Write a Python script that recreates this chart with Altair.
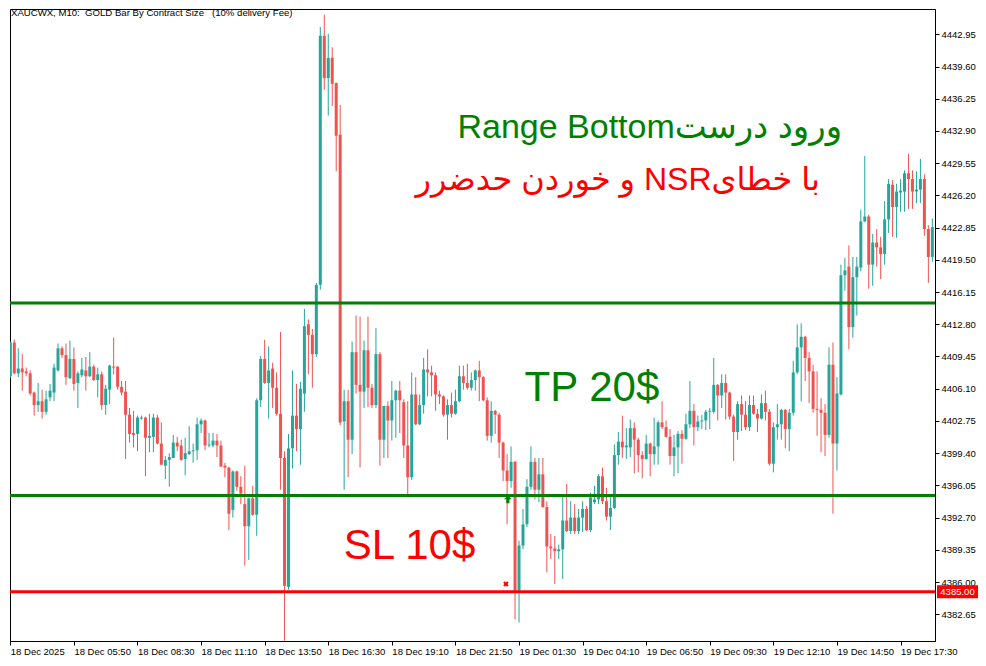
import altair as alt
import pandas as pd

# ---- candle data (10-minute bars, index 0..232) ----
opens = [4407.4, 4410.9, 4407.7, 4408.2, 4407.9, 4407.7, 4405.7, 4404.4, 4404.8, 4403.7,
         4405.2, 4405.7, 4408.0, 4410.3, 4409.6, 4407.2, 4409.2, 4406.7, 4407.5, 4408.0,
         4407.4, 4408.4, 4407.0, 4407.6, 4404.4, 4406.0, 4408.4, 4408.4, 4406.3, 4405.8,
         4403.4, 4401.5, 4401.4, 4403.0, 4403.1, 4401.0, 4401.1, 4403.1, 4400.4, 4398.1,
         4398.7, 4398.9, 4400.5, 4400.2, 4398.8, 4399.3, 4399.6, 4399.7, 4402.4, 4402.8,
         4400.2, 4400.2, 4400.7, 4400.2, 4398.1, 4397.9, 4393.5, 4397.5, 4395.9, 4394.1,
         4391.8, 4394.7, 4393.0, 4404.9, 4409.2, 4406.7, 4408.2, 4406.2, 4403.5, 4398.9,
         4385.5, 4399.9, 4403.3, 4401.9, 4405.6, 4412.8, 4411.7, 4409.7, 4416.9, 4442.8,
         4438.4, 4440.5, 4437.9, 4432.5, 4402.7, 4404.8, 4400.8, 4409.9, 4406.5, 4405.8,
         4410.1, 4406.2, 4404.4, 4409.7, 4400.8, 4404.3, 4402.8, 4404.9, 4405.9, 4404.7,
         4400.2, 4396.9, 4405.5, 4402.4, 4404.4, 4408.1, 4407.8, 4407.5, 4405.5, 4405.3,
         4403.4, 4404.4, 4403.5, 4404.8, 4407.4, 4406.7, 4406.2, 4407.0, 4408.0, 4407.3,
         4404.9, 4401.2, 4403.8, 4403.4, 4400.5, 4397.6, 4396.5, 4398.5, 4385.1, 4389.8,
         4392.0, 4395.9, 4398.5, 4395.6, 4397.2, 4393.8, 4389.7, 4389.5, 4389.2, 4389.4,
         4392.4, 4391.3, 4392.7, 4391.3, 4392.7, 4393.6, 4391.4, 4394.3, 4394.6, 4397.0,
         4394.4, 4392.8, 4393.7, 4399.2, 4400.6, 4400.0, 4400.0, 4402.0, 4400.8, 4399.2,
         4398.8, 4400.4, 4399.3, 4400.1, 4402.6, 4402.1, 4401.1, 4399.1, 4400.0, 4401.4,
         4400.9, 4402.4, 4403.8, 4402.1, 4402.7, 4402.8, 4403.7, 4403.7, 4406.5, 4405.4,
         4406.7, 4405.7, 4403.2, 4401.6, 4404.5, 4403.4, 4402.1, 4404.4, 4403.5, 4403.0,
         4404.6, 4403.7, 4398.3, 4402.1, 4402.4, 4403.9, 4401.9, 4403.6, 4407.8, 4410.4,
         4411.5, 4409.3, 4407.9, 4404.0, 4403.9, 4403.6, 4401.3, 4408.6, 4400.4, 4405.5,
         4417.9, 4418.8, 4412.5, 4417.7, 4418.7, 4423.5, 4424.0, 4419.0, 4421.3, 4420.8,
         4420.1, 4423.7, 4427.3, 4425.0, 4426.5, 4426.6, 4428.5, 4427.9, 4426.6, 4426.8,
         4427.9, 4422.7, 4419.8]
highs = [4411.0, 4411.2, 4410.3, 4409.7, 4408.3, 4408.0, 4405.8, 4406.7, 4406.0, 4405.9,
         4406.6, 4408.7, 4410.8, 4410.5, 4410.8, 4411.1, 4410.4, 4407.9, 4409.3, 4409.4,
         4409.9, 4408.6, 4408.3, 4407.9, 4406.5, 4408.6, 4411.4, 4408.4, 4406.9, 4406.9,
         4404.1, 4403.8, 4403.3, 4403.3, 4403.2, 4403.5, 4403.5, 4403.4, 4402.6, 4399.1,
         4399.4, 4401.3, 4401.1, 4400.8, 4401.0, 4402.2, 4400.4, 4403.1, 4403.0, 4402.9,
         4401.5, 4401.5, 4401.4, 4400.7, 4398.4, 4398.0, 4397.6, 4397.6, 4397.0, 4398.1,
         4394.8, 4396.0, 4405.1, 4409.5, 4411.2, 4410.5, 4408.8, 4407.8, 4412.0, 4399.6,
         4401.4, 4408.0, 4406.6, 4406.8, 4414.4, 4413.3, 4412.3, 4417.1, 4443.7, 4445.0,
         4443.0, 4441.6, 4437.9, 4435.6, 4406.0, 4406.0, 4411.0, 4413.7, 4413.6, 4411.1,
         4413.6, 4406.6, 4412.4, 4409.9, 4404.3, 4404.8, 4406.9, 4406.0, 4406.9, 4405.0,
         4404.8, 4407.8, 4407.3, 4405.5, 4409.3, 4410.2, 4408.5, 4407.8, 4405.9, 4405.4,
         4405.0, 4405.7, 4406.0, 4408.5, 4408.5, 4408.7, 4407.8, 4408.1, 4409.0, 4407.4,
         4405.2, 4404.8, 4403.9, 4403.6, 4400.6, 4399.3, 4400.1, 4398.6, 4390.3, 4393.6,
         4396.7, 4400.1, 4398.9, 4398.9, 4398.9, 4394.4, 4391.0, 4390.8, 4389.9, 4395.0,
         4396.2, 4394.4, 4394.1, 4393.6, 4394.4, 4393.9, 4395.3, 4396.0, 4397.2, 4397.9,
         4395.8, 4394.8, 4400.3, 4401.6, 4403.3, 4402.0, 4402.9, 4402.6, 4401.0, 4399.6,
         4401.3, 4400.5, 4403.1, 4402.8, 4404.8, 4402.8, 4401.9, 4401.3, 4401.7, 4401.8,
         4403.5, 4406.9, 4404.5, 4403.3, 4403.4, 4403.9, 4404.1, 4409.3, 4406.6, 4407.6,
         4407.6, 4405.8, 4403.4, 4404.8, 4405.4, 4404.8, 4405.4, 4405.4, 4404.0, 4405.5,
         4405.9, 4404.0, 4402.6, 4404.5, 4404.0, 4404.0, 4404.0, 4409.0, 4412.8, 4412.9,
         4411.6, 4409.9, 4408.6, 4407.9, 4405.1, 4404.5, 4410.4, 4410.9, 4407.3, 4419.0,
         4419.7, 4421.0, 4419.8, 4419.8, 4424.7, 4430.3, 4424.2, 4422.2, 4422.7, 4421.9,
         4425.6, 4427.9, 4427.8, 4427.4, 4427.9, 4428.8, 4430.5, 4428.8, 4428.7, 4430.0,
         4428.4, 4423.1, 4423.8]
lows = [4407.2, 4407.6, 4407.3, 4405.9, 4407.4, 4405.4, 4403.3, 4403.7, 4403.0, 4403.4,
        4404.8, 4404.8, 4407.9, 4409.3, 4406.5, 4407.1, 4405.9, 4404.1, 4407.3, 4405.9,
        4407.3, 4406.9, 4405.2, 4403.9, 4403.4, 4404.5, 4407.6, 4406.0, 4405.4, 4398.8,
        4400.5, 4400.0, 4399.6, 4402.9, 4397.0, 4399.5, 4399.5, 4400.3, 4398.2, 4396.7,
        4395.9, 4398.9, 4399.6, 4398.6, 4397.1, 4399.2, 4398.4, 4398.7, 4401.5, 4399.7,
        4400.0, 4400.0, 4399.0, 4398.0, 4396.9, 4391.4, 4392.7, 4395.5, 4394.1, 4387.7,
        4388.3, 4392.9, 4390.8, 4404.2, 4406.6, 4403.0, 4404.1, 4403.3, 4395.6, 4379.9,
        4385.2, 4397.8, 4399.6, 4398.2, 4403.7, 4407.6, 4406.2, 4409.4, 4416.4, 4437.2,
        4434.5, 4435.5, 4428.7, 4402.3, 4395.6, 4396.9, 4399.3, 4405.6, 4397.9, 4404.1,
        4404.2, 4404.1, 4404.1, 4398.1, 4398.9, 4398.9, 4400.7, 4401.0, 4401.5, 4398.9,
        4394.8, 4396.6, 4402.3, 4402.3, 4403.5, 4405.3, 4405.3, 4403.8, 4404.5, 4403.2,
        4400.8, 4403.1, 4403.4, 4404.7, 4406.0, 4406.0, 4405.9, 4405.9, 4404.8, 4404.8,
        4400.7, 4400.5, 4401.4, 4398.9, 4396.5, 4392.0, 4395.8, 4382.1, 4381.8, 4389.4,
        4391.7, 4395.6, 4394.6, 4394.3, 4393.7, 4387.0, 4388.4, 4385.8, 4388.4, 4386.3,
        4391.2, 4391.0, 4391.0, 4391.0, 4391.2, 4391.3, 4391.2, 4394.1, 4394.1, 4394.1,
        4392.4, 4391.4, 4393.6, 4398.2, 4398.9, 4398.8, 4399.0, 4397.3, 4397.4, 4396.8,
        4398.7, 4397.0, 4398.2, 4398.2, 4401.9, 4401.0, 4398.2, 4397.0, 4397.3, 4398.3,
        4400.8, 4402.0, 4400.2, 4401.7, 4401.9, 4401.8, 4401.9, 4403.5, 4402.8, 4404.1,
        4402.9, 4402.9, 4398.6, 4400.8, 4401.7, 4401.8, 4401.7, 4403.4, 4401.6, 4402.9,
        4402.8, 4398.1, 4397.4, 4400.8, 4400.8, 4399.9, 4399.6, 4403.3, 4407.6, 4404.8,
        4406.9, 4404.6, 4403.6, 4401.2, 4399.5, 4399.1, 4401.0, 4393.1, 4397.6, 4405.4,
        4416.3, 4410.2, 4411.4, 4413.7, 4418.3, 4423.4, 4416.5, 4416.8, 4418.8, 4417.5,
        4419.0, 4422.3, 4421.9, 4421.8, 4424.5, 4424.5, 4424.8, 4424.8, 4425.4, 4425.4,
        4422.0, 4417.1, 4419.3]
closes = [4410.9, 4407.7, 4408.2, 4407.8, 4407.7, 4405.6, 4404.4, 4404.8, 4403.7, 4405.0,
          4405.9, 4408.3, 4410.3, 4409.6, 4407.3, 4409.2, 4406.6, 4407.7, 4408.1, 4407.4,
          4408.4, 4407.0, 4407.6, 4404.4, 4406.1, 4408.5, 4408.3, 4406.3, 4405.7, 4403.4,
          4401.4, 4401.3, 4403.1, 4403.1, 4401.0, 4401.2, 4403.1, 4400.4, 4398.2, 4398.7,
          4399.0, 4400.5, 4400.1, 4398.7, 4399.4, 4399.6, 4399.7, 4402.4, 4402.8, 4400.2,
          4400.3, 4400.7, 4400.2, 4398.0, 4397.9, 4393.1, 4397.5, 4395.9, 4395.2, 4391.8,
          4394.7, 4393.0, 4404.9, 4409.2, 4406.7, 4408.0, 4406.2, 4403.5, 4398.9, 4385.6,
          4399.9, 4403.3, 4401.9, 4406.1, 4412.6, 4411.7, 4409.7, 4416.9, 4442.8, 4438.4,
          4440.5, 4437.8, 4432.4, 4402.6, 4404.8, 4400.8, 4409.9, 4406.5, 4405.8, 4410.1,
          4406.2, 4404.4, 4409.7, 4400.8, 4404.3, 4402.8, 4404.9, 4405.9, 4404.9, 4400.2,
          4396.9, 4405.5, 4402.4, 4404.4, 4408.1, 4407.8, 4407.5, 4405.5, 4405.3, 4403.4,
          4404.4, 4403.5, 4404.8, 4407.4, 4406.7, 4406.2, 4407.0, 4408.0, 4407.3, 4404.9,
          4401.2, 4403.8, 4403.4, 4400.5, 4397.6, 4396.5, 4398.5, 4385.1, 4389.8, 4392.0,
          4395.9, 4398.5, 4395.6, 4397.2, 4393.8, 4389.7, 4389.5, 4389.2, 4389.4, 4392.4,
          4391.3, 4392.7, 4391.3, 4392.7, 4393.6, 4391.4, 4394.8, 4394.6, 4397.0, 4394.4,
          4392.8, 4393.7, 4399.2, 4400.6, 4400.0, 4400.2, 4402.0, 4400.8, 4399.2, 4398.8,
          4400.4, 4399.3, 4400.1, 4402.6, 4402.1, 4401.1, 4399.1, 4400.0, 4401.4, 4400.9,
          4402.4, 4403.8, 4402.1, 4402.7, 4402.8, 4403.7, 4403.8, 4406.5, 4405.4, 4406.7,
          4405.7, 4403.2, 4401.6, 4404.5, 4403.4, 4402.1, 4404.4, 4403.5, 4403.0, 4404.6,
          4403.7, 4398.3, 4402.1, 4402.4, 4403.9, 4401.9, 4403.6, 4407.8, 4410.4, 4411.5,
          4409.3, 4407.9, 4404.0, 4403.9, 4403.6, 4401.3, 4408.6, 4400.4, 4405.6, 4417.9,
          4418.4, 4412.5, 4417.7, 4418.8, 4423.5, 4424.0, 4419.0, 4421.3, 4420.8, 4420.1,
          4423.7, 4427.4, 4425.0, 4426.6, 4426.7, 4428.5, 4427.9, 4426.6, 4426.8, 4427.9,
          4422.7, 4419.8, 4422.9]

# ---- axes ----
x_tick_idx = [0, 16, 32, 48, 64, 80, 96, 112, 128, 144, 160, 176, 192, 208, 224]
x_tick_labels = ["18 Dec 2025", "18 Dec 05:50", "18 Dec 08:30", "18 Dec 11:10", "18 Dec 13:50",
                 "18 Dec 16:30", "18 Dec 19:10", "18 Dec 21:50", "19 Dec 01:30", "19 Dec 04:10",
                 "19 Dec 06:50", "19 Dec 09:30", "19 Dec 12:10", "19 Dec 14:50", "19 Dec 17:30"]
y_ticks = [4442.95, 4439.60, 4436.25, 4432.90, 4429.55, 4426.20, 4422.85, 4419.50, 4416.15,
           4412.80, 4409.45, 4406.10, 4402.75, 4399.40, 4396.05, 4392.70, 4389.35, 4386.00,
           4382.65]

# ---- levels and annotations ----
level_prices = [4415.0, 4395.0, 4385.0]
level_colors = ["#007f00", "#007f00", "#ff0000"]
sl_label_price = [4385.0]
title_text = "XAUCWX, M10:\u00a0\u00a0GOLD Bar By Contract Size\u00a0\u00a0\u00a0(10% delivery Fee)"
entry_marker = {"i": [125.2], "price": [4394.6]}
exit_marker = {"i": [124.7], "price": [4385.8]}
green_note = {"i": [112.5], "price": [4432.2], "t": ["Range Bottomورود درست"]}
red_note = {"i": [203.7], "price": [4426.8], "t": ["\u202bبا خطایNSR و خوردن حدضرر\u202c"]}
tp_note = {"i": [129.4], "price": [4404.8], "t": ["TP 20$"]}
sl_note = {"i": [83.9], "price": [4388.4], "t": ["SL 10$"]}

UP, DOWN = "#26a69a", "#ef5350"
W, H = 925, 632
FONT = "Liberation Sans"

df = pd.DataFrame({"i": list(range(len(opens))), "open": opens, "high": highs,
                   "low": lows, "close": closes})
df["col"] = [UP if c >= o else DOWN for o, c in zip(opens, closes)]

xscale = alt.Scale(domain=[-0.08, 232.67], nice=False, zero=False)
yscale = alt.Scale(domain=[4379.87, 4445.58], nice=False, zero=False)

label_expr = ("[" + ",".join("'%s'" % s for s in x_tick_labels) + "][indexof(["
              + ",".join(str(v) for v in x_tick_idx) + "], datum.value)]")
xaxis = alt.Axis(values=x_tick_idx, labelExpr=label_expr, grid=False, tickSize=4,
                 labelAlign="left", labelBaseline="top", labelPadding=1, labelFont=FONT,
                 labelFontSize=9.5, labelColor="black", domainColor="black", tickColor="black",
                 title=None, labelFlush=False, labelOverlap=False, labelBound=False)
yaxis = alt.Axis(orient="right", values=y_ticks, format=".2f", grid=False, tickSize=4,
                 labelPadding=2, labelFont=FONT, labelFontSize=9.5, labelColor="black",
                 domainColor="black", tickColor="black", title=None, labelFlush=False,
                 labelOverlap=False, labelBound=False)


def X(field):
    return alt.X(field, scale=xscale, axis=xaxis)


def Y(field):
    return alt.Y(field, scale=yscale, axis=yaxis)


base = alt.Chart(df)
wicks = base.mark_rule(strokeWidth=1, clip=True).encode(
    x=X("i:Q"), y=Y("low:Q"), y2="high:Q", color=alt.Color("col:N", scale=None))
bodies = base.mark_rule(strokeWidth=3, clip=True).encode(
    x=X("i:Q"), y=Y("open:Q"), y2="close:Q", color=alt.Color("col:N", scale=None))

lv = pd.DataFrame({"price": level_prices, "col": level_colors})
levels = alt.Chart(lv).mark_rule(strokeWidth=3).encode(
    y=Y("price:Q"), color=alt.Color("col:N", scale=None))

slbox_df = pd.DataFrame({"price": sl_label_price})
slbox = alt.Chart(slbox_df).mark_tick(orient="horizontal", size=41, thickness=13,
                                      color="#ff0000", opacity=1, clip=False).encode(
    x=alt.value(W + 22.5), y=Y("price:Q"))
sltext = alt.Chart(slbox_df).mark_text(font=FONT, fontSize=9.5, color="white",
                                       align="center", baseline="middle").encode(
    x=alt.value(W + 22.5), y=Y("price:Q"), text=alt.Text("price:Q", format=".2f"))

title = alt.Chart(pd.DataFrame({"t": [title_text]})).mark_text(
    font=FONT, fontSize=9.6, color="black", align="left", baseline="alphabetic").encode(
    x=alt.value(1), y=alt.value(7), text="t:N")

arrow = alt.Chart(pd.DataFrame(entry_marker)).mark_point(
    shape="M0,-1L1,0L0.4,0L0.4,1L-0.4,1L-0.4,0L-1,0Z", filled=True, size=60,
    color="#007f00", opacity=1).encode(x=X("i:Q"), y=Y("price:Q"))
xmark = alt.Chart(pd.DataFrame(exit_marker)).mark_point(
    shape="cross", angle=45, filled=True, size=30, color="#ff0000", opacity=1).encode(
    x=X("i:Q"), y=Y("price:Q"))


def note(d, size, color, align):
    return alt.Chart(pd.DataFrame(d)).mark_text(
        font=FONT + ", DejaVu Sans", fontSize=size, color=color, align=align,
        baseline="alphabetic").encode(x=X("i:Q"), y=Y("price:Q"), text="t:N")


texts = [note(green_note, 34, "#008000", "left"), note(red_note, 32, "#ff0000", "right"),
         note(tp_note, 42, "#008000", "left"), note(sl_note, 42, "#ff0000", "left")]

chart = alt.layer(wicks, bodies, levels, arrow, xmark, *texts, slbox, sltext, title).properties(
    width=W, height=H, padding=0, background="white"
).configure_view(stroke="black", strokeWidth=1)

chart.save("out.html", embed_options={"renderer": "svg", "actions": False})
